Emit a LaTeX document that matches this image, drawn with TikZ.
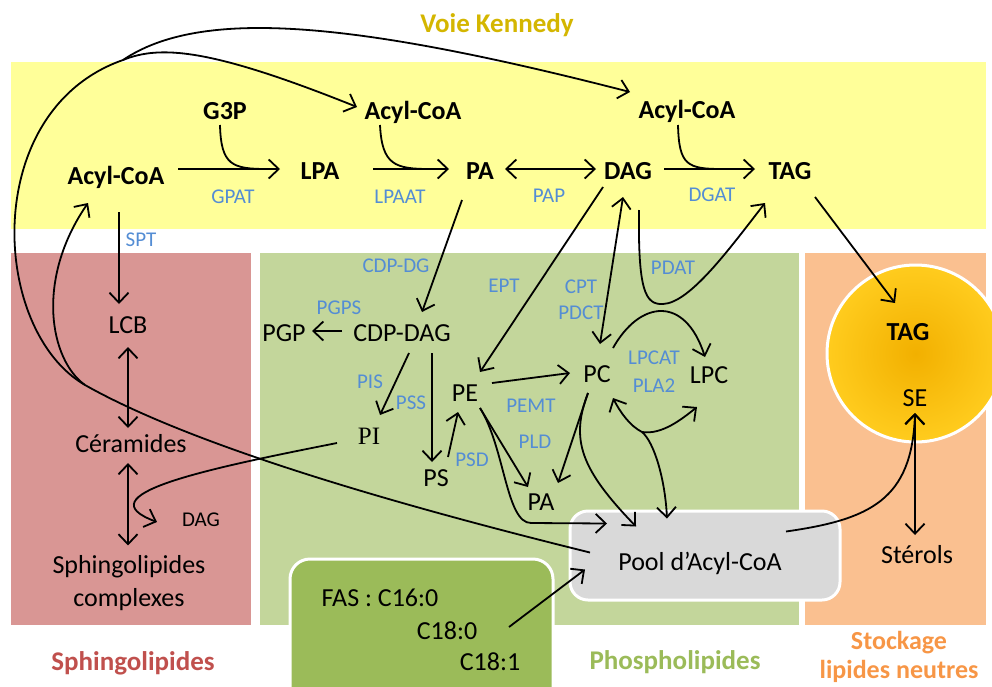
\documentclass[tikz,border=0pt]{standalone}
\usepackage{fontspec}
\setmainfont{Carlito}
\newfontfamily\serifPI{Liberation Serif}
\usetikzlibrary{arrows.meta,calc}
\definecolor{kennedy}{HTML}{FFFF99}
\definecolor{sphingo}{HTML}{D99694}
\definecolor{phospho}{HTML}{C3D69B}
\definecolor{stockage}{HTML}{FAC090}
\definecolor{poolgray}{HTML}{D9D9D9}
\definecolor{fasgreen}{HTML}{9BBB59}
\definecolor{enzblue}{HTML}{548DD4}
\definecolor{kennedytitle}{HTML}{D4B600}
\definecolor{sphingotitle}{HTML}{C0504D}
\definecolor{phosphotitle}{HTML}{9BBB59}
\definecolor{stockagetitle}{HTML}{F79646}
\definecolor{dropin}{HTML}{F2B000}
\definecolor{dropout}{HTML}{FFCC1E}
\tikzset{
% Node styles: metabolites bold or plain, enzymes in blue, titles of the sections
bold node/.style={font=\fontsize{26}{30}\selectfont\bfseries,inner sep=2pt,text height=21pt,text depth=4pt},
plain node/.style={font=\fontsize{26}{31}\selectfont,inner sep=2pt,text height=21pt,text depth=4pt},
small node/.style={font=\fontsize{21}{25}\selectfont,inner sep=2pt,text height=17pt,text depth=3.5pt},
enzyme/.style={small node,text=enzblue},
title node/.style={font=\fontsize{27}{33}\selectfont\bfseries,inner sep=2pt,text height=21pt,text depth=4pt},
two line node/.style={font=\fontsize{26}{33}\selectfont,align=center,inner sep=2pt},
% Boxes: pool, fatty acid synthase, lipid droplet
pool box/.style={draw=white,line width=3pt,fill=poolgray,rounded corners=18pt,minimum width=270pt,minimum height=89pt},
fas box/.style={draw=white,line width=3pt,fill=fasgreen,rounded corners=20pt,minimum width=263pt,minimum height=170pt},
droplet/.style={circle,draw=white,line width=3pt,inner color=dropin,outer color=dropout,minimum size=177pt}
}

\begin{document}
\begin{tikzpicture}[x=1pt,y=-1pt,line width=1.8pt]
% Specify the arrow tips
\tikzstyle{open arrow}=[-{Straight Barb[length=10pt,width=19pt]}]
\tikzstyle{both arrow}=[{Straight Barb[length=10pt,width=19pt]}-{Straight Barb[length=10pt,width=19pt]}]
\useasboundingbox (0,0) rectangle (992,686);
\clip (0,0) rectangle (992,686);
% Background panels
\fill[kennedy] (11,62) rectangle (986,229);
\fill[sphingo] (11,253) rectangle (251,625);
\fill[phospho] (260,253) rectangle (799,625);
\fill[stockage] (805,253) rectangle (986,625);
% Section titles
\node(kennedyt)[title node,text=kennedytitle] at (497,24) {Voie Kennedy};
\node(sphingot)[title node,text=sphingotitle] at (133,662) {Sphingolipides};
\node(phosphot)[title node,text=phosphotitle] at (675,661) {Phospholipides};
\node(stockt)[two line node,font=\fontsize{26}{29}\selectfont\bfseries,text=stockagetitle] at (899,657) {Stockage\\lipides neutres};
% Boxes
\node(pool)[pool box] at (705,555.5) {};
\node(fas)[fas box] at (421.5,644) {};
\node(drop)[droplet] at (915.5,353.5) {};
% Kennedy pathway
\node(acyla)[bold node] at (116,176) {Acyl-CoA};
\node(g3p)[bold node] at (225,111) {G3P};
\node(acylb)[bold node] at (413,111) {Acyl-CoA};
\node(acylc)[bold node] at (687,110) {Acyl-CoA};
\node(lpa)[bold node] at (320,171) {LPA};
\node(pa)[bold node] at (480,171) {PA};
\node(dag)[bold node] at (628,171) {DAG};
\node(tag)[bold node] at (790,171) {TAG};
\node(gpat)[enzyme] at (233,197) {GPAT};
\node(lpaat)[enzyme] at (400,197) {LPAAT};
\node(pap)[enzyme] at (549,196) {PAP};
\node(dgat)[enzyme] at (712,195) {DGAT};
% Sphingolipids
\node(spt)[enzyme] at (141,240) {SPT};
\node(lcb)[plain node] at (128,325) {LCB};
\node(cer)[plain node] at (131,444) {Céramides};
\node(dagsm)[small node] at (201,520) {DAG};
\node(sphc)[two line node] at (129,583) {Sphingolipides\\complexes};
% Phospholipids
\node(cdpdg)[enzyme] at (396,266) {CDP-DG};
\node(pgps)[enzyme] at (339,308) {PGPS};
\node(pgp)[plain node] at (284,333) {PGP};
\node(cdpdag)[plain node] at (402,333) {CDP-DAG};
\node(pis)[enzyme] at (370,382) {PIS};
\node(pss)[enzyme] at (411,403) {PSS};
\node(pi)[plain node,font=\fontsize{25}{30}\selectfont\serifPI] at (369,436) {PI};
\node(ps)[plain node] at (436,478) {PS};
\node(psd)[enzyme] at (472,460) {PSD};
\node(pe)[plain node] at (465,393) {PE};
\node(ept)[enzyme] at (504,286) {EPT};
\node(cpt)[enzyme] at (581,287) {CPT};
\node(pdct)[enzyme] at (581,313) {PDCT};
\node(pdat)[enzyme] at (673,268) {PDAT};
\node(pc)[plain node] at (597,374) {PC};
\node(lpc)[plain node] at (709,375) {LPC};
\node(lpcat)[enzyme] at (654,358) {LPCAT};
\node(pla2)[enzyme] at (654,386) {PLA2};
\node(pemt)[enzyme] at (531,406) {PEMT};
\node(pld)[enzyme] at (535,442) {PLD};
\node(pa2)[plain node] at (541,502) {PA};
% Pool, FAS and storage
\node(pooltxt)[plain node] at (700,562) {Pool d’Acyl-CoA};
\node(c160)[plain node] at (380,598) {FAS : C16:0};
\node(c180)[plain node] at (447,631) {C18:0};
\node(c181)[plain node] at (490,662) {C18:1};
\node(tagd)[bold node] at (908,332) {TAG};
\node(se)[plain node] at (915,398) {SE};
\node(sterols)[plain node] at (917,555) {Stérols};
% Kennedy arrows
\draw[open arrow] ($(acyla)+(62,-7)$) -- ($(lpa)+(-40,-2)$);
\draw ($(g3p)+(-5,14)$) .. controls +(1,40) and +(-35,0) .. ($(lpa)+(-53,-2)$);
\draw[open arrow] ($(lpa)+(53,-2)$) -- ($(pa)+(-31,-2)$);
\draw ($(acylb)+(-33,14)$) .. controls +(2,40) and +(-35,0) .. ($(pa)+(-50,-2)$);
\draw[both arrow] ($(pa)+(25,-2)$) -- ($(dag)+(-32,-2)$);
\draw[open arrow] ($(dag)+(36,-2)$) -- ($(tag)+(-35,-2)$);
\draw ($(acylc)+(-9,15)$) .. controls +(1,40) and +(-35,0) .. ($(tag)+(-68,-2)$);
% Sphingolipid arrows
\draw[open arrow] ($(acyla)+(3,36)$) -- ($(lcb)+(-9,-21)$);
\draw[both arrow] ($(lcb)+(0,22)$) -- ($(cer)+(-3,-16)$);
\draw[both arrow] ($(cer)+(-3,19)$) -- ($(sphc.north)+(-1,-7)$);
\draw[open arrow] ($(pi)+(-32,7)$) .. controls +(-137,27) and +(-72,-27) .. ($(dagsm)+(-44,2)$);
% Phospholipid arrows
\draw[open arrow] ($(pa)+(-18,29)$) -- ($(cdpdag)+(20,-21)$);
\draw[open arrow] ($(cdpdag)+(-60,-2)$) -- ($(pgp)+(28,-2)$);
\draw[open arrow] ($(cdpdag)+(7,20)$) -- ($(pi)+(11,-21)$);
\draw[open arrow] ($(cdpdag)+(30,20)$) -- ($(ps)+(-4,-16)$);
\draw[open arrow] ($(ps)+(12,-21)$) -- ($(pe)+(-7,19)$);
\draw[open arrow] ($(dag)+(-25,16)$) -- ($(pe)+(15,-21)$);
\draw[both arrow] ($(dag)+(-5,26)$) -- ($(pc)+(3,-30)$);
\draw[open arrow] ($(dag)+(11,39)$) .. controls +(-1,80) and +(-18,1) .. ($(pdat)+(-10,36)$) .. controls +(27,-1) and +(-35,45) .. ($(tag)+(-25,32)$);
\draw[open arrow] ($(pc)+(16,-26)$) .. controls +(27,-48) and +(-20,-62) .. ($(lpc)+(-4,-18)$);
\draw[open arrow] ($(pe)+(27,-10)$) -- ($(pc)+(-27,-1)$);
\draw[open arrow] ($(pe)+(15,15)$) -- ($(pa2)+(-13,-15)$);
\draw[open arrow] ($(pe)+(15,15)$) .. controls +(25,40) and +(-25,0) .. ($(pa2)+(-10,21)$) -- ($(pool)+(-98,-32)$);
\draw[open arrow] ($(pc)+(-9,19)$) -- ($(pa2)+(17,-19)$);
\draw[open arrow] ($(pc)+(-9,19)$) .. controls +(-18,47) and +(-55,-57) .. ($(pool)+(-69,-29)$);
\coordinate (j4) at ($(pc)+(45,58)$);
\draw[open arrow] (j4) .. controls +(-12,-6) and +(7,14) .. ($(pc)+(16,24)$);
\draw[open arrow] (j4) .. controls +(20,3) and +(-15,12) .. ($(lpc)+(-12,32)$);
\draw[open arrow] (j4) .. controls +(12,10) and +(-2,-40) .. ($(pool)+(-38,-37)$);
% Acyl-CoA pool feeding the pathways
\coordinate (j1) at (85,385);
\coordinate (j2) at (123,60);
\draw ($(pool)+(-115,-3)$) .. controls +(-170,-42) and +(115,65) .. (j1);
\draw (j1) .. controls +(-95,-55) and +(-143,50) .. (j2);
\draw[open arrow] (j2) .. controls +(77,-52) and +(-280,-72) .. ($(acylc)+(-57,-18)$);
\draw[open arrow] (j2) .. controls +(37,-15) and +(-147,-59) .. ($(acylb)+(-56,-4)$);
\draw[open arrow] (j1) .. controls +(-35,-25) and +(-53,77) .. ($(acyla)+(-28,27)$);
\draw[open arrow] ($(c180)+(62,-4)$) -- ($(pool)+(-120,14)$);
% Neutral lipid storage
\draw[open arrow] ($(pool)+(81,-24)$) .. controls +(84,-12) and +(-3,87) .. ($(se)+(0,15)$);
\draw[both arrow] ($(se)+(0,15)$) -- ($(sterols)+(-2,-20)$);
\draw[open arrow] ($(tag)+(25,26)$) -- ($(tagd)+(-13,-29)$);
\end{tikzpicture}
\end{document}
